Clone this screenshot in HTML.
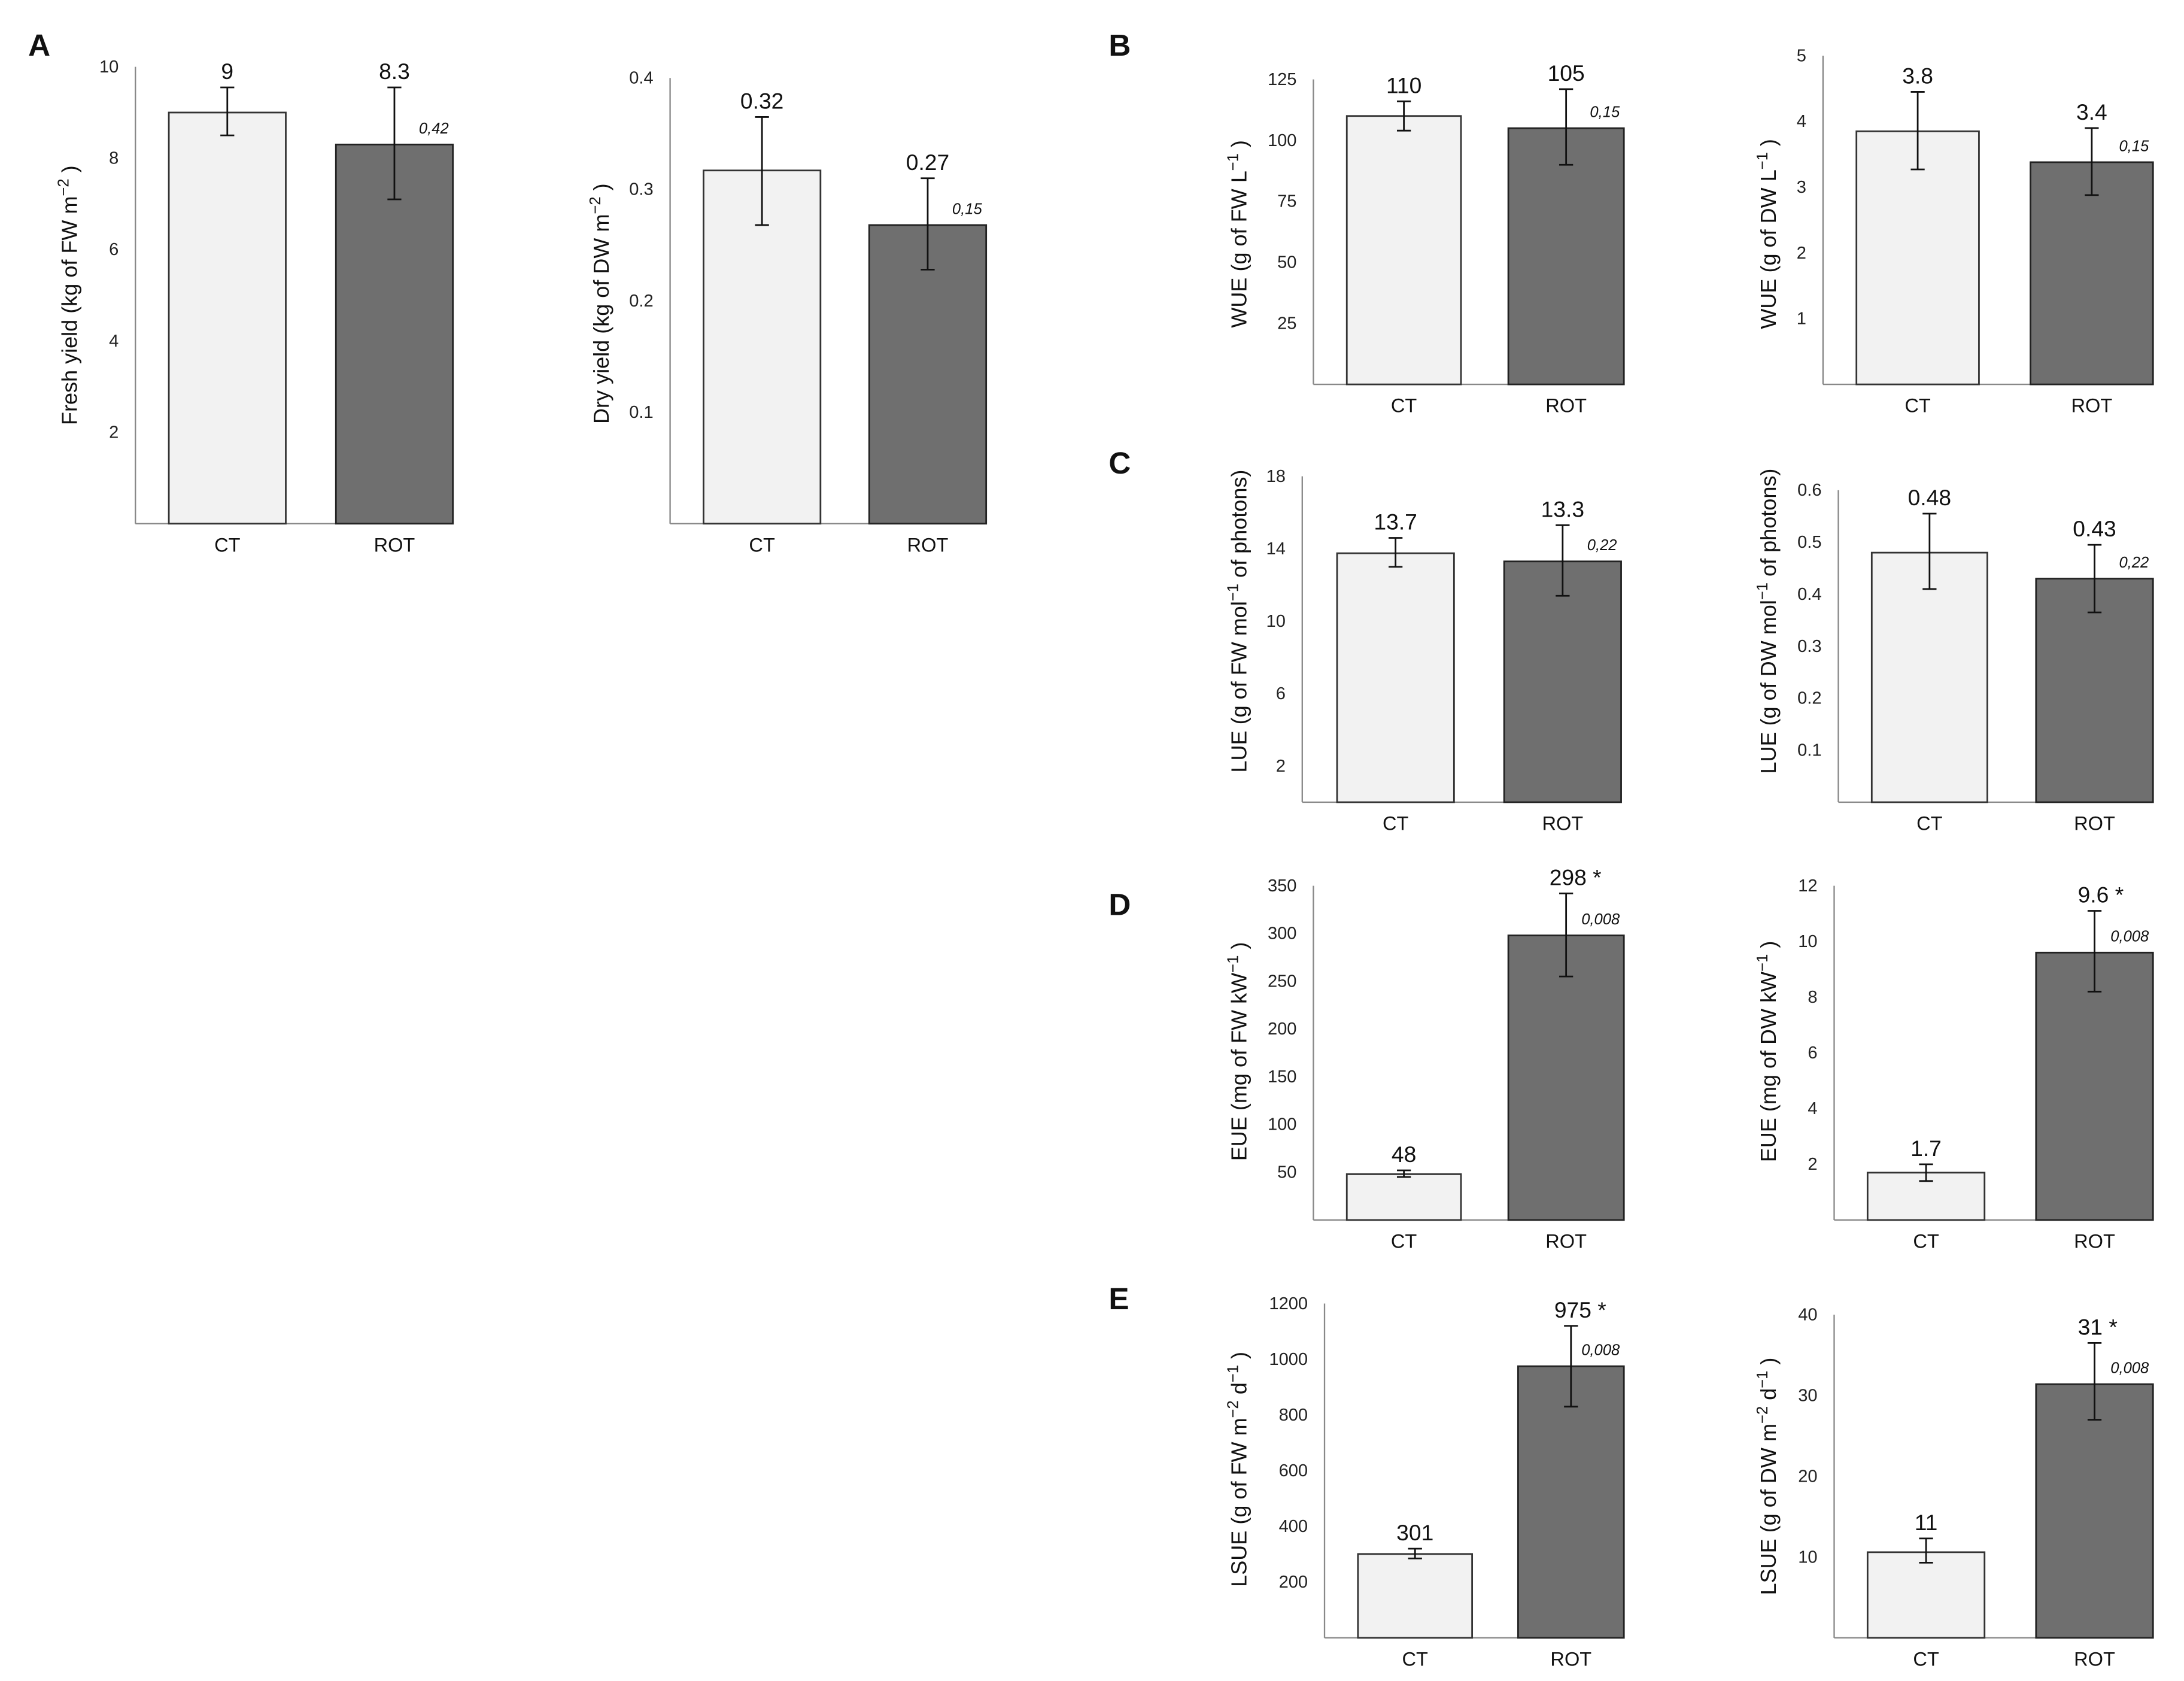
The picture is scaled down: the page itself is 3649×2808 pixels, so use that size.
<!DOCTYPE html>
<html><head><meta charset="utf-8"><title>Yield and efficiency charts</title>
<style>
html,body{margin:0;padding:0;background:#fff;}
svg{display:block;}
text{font-family:"Liberation Sans Narrow","Liberation Sans",sans-serif;fill:#111;}
.tick{font-size:12.5px;fill:#222;}
.cat{font-size:14px;}
.val{font-size:16px;}
.pv{font-size:11px;font-style:italic;}
.ytitle{font-family:"Liberation Sans",sans-serif;font-size:15.5px;}
.letter{font-family:"Liberation Sans",sans-serif;font-weight:bold;font-size:22px;}
</style></head>
<body>
<svg id="fig" xmlns="http://www.w3.org/2000/svg" width="3649" height="2808" viewBox="0 0 1568 1207">
<rect width="1568" height="1207" fill="#fff"/>
<text class="letter" x="20" y="40">A</text>
<text class="letter" x="796" y="40">B</text>
<text class="letter" x="796" y="340">C</text>
<text class="letter" x="796" y="657">D</text>
<text class="letter" x="796" y="940">E</text>
</svg>
<script>
const categories = ["CT", "ROT"];

const freshValues = [9, 8.3];
const freshErrLow = [8.5, 7.1];
const freshErrHigh = [9.55, 9.55];
const freshLabels = ["9", "8.3"];
const freshTicks = [2, 4, 6, 8, 10];
const freshP = "0,42";

const dryValues = [0.317, 0.268];
const dryErrLow = [0.268, 0.228];
const dryErrHigh = [0.365, 0.31];
const dryLabels = ["0.32", "0.27"];
const dryTicks = [0.1, 0.2, 0.3, 0.4];
const dryP = "0,15";

const wueFwValues = [110, 105];
const wueFwErrLow = [104, 90];
const wueFwErrHigh = [116, 121];
const wueFwLabels = ["110", "105"];
const wueFwTicks = [25, 50, 75, 100, 125];
const wueFwP = "0,15";

const wueDwValues = [3.85, 3.38];
const wueDwErrLow = [3.27, 2.88];
const wueDwErrHigh = [4.45, 3.9];
const wueDwLabels = ["3.8", "3.4"];
const wueDwTicks = [1, 2, 3, 4, 5];
const wueDwP = "0,15";

const lueFwValues = [13.75, 13.3];
const lueFwErrLow = [13.0, 11.4];
const lueFwErrHigh = [14.6, 15.3];
const lueFwLabels = ["13.7", "13.3"];
const lueFwTicks = [2, 6, 10, 14, 18];
const lueFwP = "0,22";

const lueDwValues = [0.48, 0.43];
const lueDwErrLow = [0.41, 0.365];
const lueDwErrHigh = [0.555, 0.495];
const lueDwLabels = ["0.48", "0.43"];
const lueDwTicks = [0.1, 0.2, 0.3, 0.4, 0.5, 0.6];
const lueDwP = "0,22";

const eueFwValues = [48, 298];
const eueFwErrLow = [45, 255];
const eueFwErrHigh = [52, 342];
const eueFwLabels = ["48", "298  *"];
const eueFwTicks = [50, 100, 150, 200, 250, 300, 350];
const eueFwP = "0,008";

const eueDwValues = [1.7, 9.6];
const eueDwErrLow = [1.4, 8.2];
const eueDwErrHigh = [2.0, 11.1];
const eueDwLabels = ["1.7", "9.6  *"];
const eueDwTicks = [2, 4, 6, 8, 10, 12];
const eueDwP = "0,008";

const lsueFwValues = [301, 975];
const lsueFwErrLow = [285, 830];
const lsueFwErrHigh = [320, 1120];
const lsueFwLabels = ["301", "975  *"];
const lsueFwTicks = [200, 400, 600, 800, 1000, 1200];
const lsueFwP = "0,008";

const lsueDwValues = [10.6, 31.4];
const lsueDwErrLow = [9.3, 27];
const lsueDwErrHigh = [12.3, 36.5];
const lsueDwLabels = ["11", "31   *"];
const lsueDwTicks = [10, 20, 30, 40];
const lsueDwP = "0,008";

const NS = "http://www.w3.org/2000/svg";
const svg = document.getElementById("fig");
function mk(tag, attrs, parent) {
  const e = document.createElementNS(NS, tag);
  for (const k in attrs) e.setAttribute(k, attrs[k]);
  (parent || svg).appendChild(e);
  return e;
}

function drawChart(id, layout, values, lo, hi, labels, ticks, pval, titleParts) {
  const g = mk("g", {});
  
  
  const ax = layout.ax, y0 = layout.y0;
  const yScale = v => y0 - (v / layout.max) * (y0 - layout.yTop);
  const axisY = mk("line", {x1: ax, y1: layout.yTop, x2: ax, y2: y0, stroke: "#888", "stroke-width": 1}, g);
  
  
  const axisX = mk("line", {x1: ax, y1: y0, x2: layout.bars[1][1], y2: y0, stroke: "#888", "stroke-width": 1}, g);
  
  
  ticks.forEach(t => {
    const tx = mk("text", {x: ax - 12, y: yScale(t) + 4, "text-anchor": "end", class: "tick"}, g);
    tx.textContent = String(t);
    
    
  });
  const fills = ["#f2f2f2", "#6f6f6f"];
  const strokes = ["#333", "#222"];
  values.forEach((v, i) => {
    const [x1, x2] = layout.bars[i];
    const cx = (x1 + x2) / 2;
    const r = mk("rect", {x: x1, y: yScale(v), width: x2 - x1, height: y0 - yScale(v), fill: fills[i], stroke: strokes[i], "stroke-width": 1.2}, g);
    
    
    const eb = mk("path", {d: `M${cx},${yScale(lo[i])}V${yScale(hi[i])}M${cx-5},${yScale(lo[i])}H${cx+5}M${cx-5},${yScale(hi[i])}H${cx+5}`, stroke: "#111", "stroke-width": 1.2, fill: "none"}, g);
    
    
    const lt = mk("text", {x: cx, y: Math.min(yScale(hi[i]), yScale(v)) - 6, "text-anchor": "middle", class: "val"}, g);
    lt.textContent = labels[i];
    if (labels[i].indexOf("*") >= 0) { lt.setAttribute("text-anchor", "start"); lt.setAttribute("x", cx - 12); }
    
    
    const ct = mk("text", {x: cx, y: y0 + 20, "text-anchor": "middle", class: "cat"}, g);
    ct.textContent = categories[i];
    
    
  });
  const [rx1, rx2] = layout.bars[1];
  const pt = mk("text", {x: rx2 - 3, y: yScale(values[1]) - 8, "text-anchor": "end", class: "pv"}, g);
  pt.textContent = pval;
  
  
  const tt = mk("text", {transform: `translate(${layout.tx},${layout.ty}) rotate(-90)`, "text-anchor": "middle", class: "ytitle"}, g);
  
  
  titleParts.forEach(p => {
    const s = mk("tspan", p[1] ? {"baseline-shift": "super", "font-size": "11"} : {}, tt);
    s.textContent = p[0];
  });
}

drawChart("fresh-yield", {ax: 97, y0: 376, yTop: 48, max: 10, bars: [[121, 205], [241, 325]], tx: 55, ty: 212},
  freshValues, freshErrLow, freshErrHigh, freshLabels, freshTicks, freshP,
  [["Fresh yield (kg of FW m"], ["\u22122", 1], [" )"]]);
drawChart("dry-yield", {ax: 481, y0: 376, yTop: 56, max: 0.4, bars: [[505, 589], [624, 708]], tx: 437, ty: 218},
  dryValues, dryErrLow, dryErrHigh, dryLabels, dryTicks, dryP,
  [["Dry yield (kg of DW m"], ["\u22122", 1], [" )"]]);
drawChart("wue-fw", {ax: 943, y0: 276, yTop: 57, max: 125, bars: [[967, 1049], [1083, 1166]], tx: 895, ty: 168},
  wueFwValues, wueFwErrLow, wueFwErrHigh, wueFwLabels, wueFwTicks, wueFwP,
  [["WUE (g of FW L"], ["\u22121", 1], [" )"]]);
drawChart("wue-dw", {ax: 1309, y0: 276, yTop: 40, max: 5, bars: [[1333, 1421], [1458, 1546]], tx: 1275, ty: 168},
  wueDwValues, wueDwErrLow, wueDwErrHigh, wueDwLabels, wueDwTicks, wueDwP,
  [["WUE (g of DW L"], ["\u22121", 1], [" )"]]);
drawChart("lue-fw", {ax: 935, y0: 576, yTop: 342, max: 18, bars: [[960, 1044], [1080, 1164]], tx: 895, ty: 446},
  lueFwValues, lueFwErrLow, lueFwErrHigh, lueFwLabels, lueFwTicks, lueFwP,
  [["LUE (g of FW mol"], ["\u22121", 1], ["  of photons)"]]);
drawChart("lue-dw", {ax: 1320, y0: 576, yTop: 352, max: 0.6, bars: [[1344, 1427], [1462, 1546]], tx: 1275, ty: 446},
  lueDwValues, lueDwErrLow, lueDwErrHigh, lueDwLabels, lueDwTicks, lueDwP,
  [["LUE (g of DW mol"], ["\u22121", 1], ["  of photons)"]]);
drawChart("eue-fw", {ax: 943, y0: 876, yTop: 636, max: 350, bars: [[967, 1049], [1083, 1166]], tx: 895, ty: 755},
  eueFwValues, eueFwErrLow, eueFwErrHigh, eueFwLabels, eueFwTicks, eueFwP,
  [["EUE (mg of FW kW"], ["\u22121", 1], [" )"]]);
drawChart("eue-dw", {ax: 1317, y0: 876, yTop: 636, max: 12, bars: [[1341, 1425], [1462, 1546]], tx: 1275, ty: 755},
  eueDwValues, eueDwErrLow, eueDwErrHigh, eueDwLabels, eueDwTicks, eueDwP,
  [["EUE (mg of DW kW"], ["\u22121", 1], [" )"]]);
drawChart("lsue-fw", {ax: 951, y0: 1176, yTop: 936, max: 1200, bars: [[975, 1057], [1090, 1166]], tx: 895, ty: 1055},
  lsueFwValues, lsueFwErrLow, lsueFwErrHigh, lsueFwLabels, lsueFwTicks, lsueFwP,
  [["LSUE (g of FW m"], ["\u22122", 1], [" d"], ["\u22121", 1], [" )"]]);
drawChart("lsue-dw", {ax: 1317, y0: 1176, yTop: 944, max: 40, bars: [[1341, 1425], [1462, 1546]], tx: 1275, ty: 1060},
  lsueDwValues, lsueDwErrLow, lsueDwErrHigh, lsueDwLabels, lsueDwTicks, lsueDwP,
  [["LSUE (g of DW m"], ["\u22122", 1], [" d"], ["\u22121", 1], [" )"]]);
</script>
</body></html>
